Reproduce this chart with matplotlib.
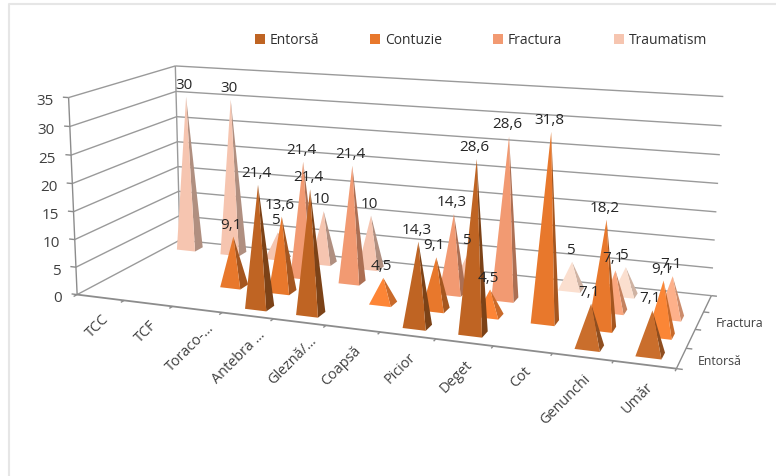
import numpy as np
import matplotlib
matplotlib.use('Agg')
import matplotlib.pyplot as plt
from matplotlib.patches import Polygon

categories = ['TCC', 'TCF', 'Toraco-...', 'Antebra ...', 'Gleznă/...', 'Coapsă',
              'Picior', 'Deget', 'Cot', 'Genunchi', 'Umăr']
series_names = ['Entorsă', 'Contuzie', 'Fractura', 'Traumatism']
entorsa = [None, None, None, 21.4, 21.4, None, 14.3, 28.6, None, 7.1, 7.1]
contuzie = [None, None, 9.1, 13.6, None, 4.5, 9.1, 4.5, 31.8, 18.2, 9.1]
fractura = [None, None, None, 21.4, 21.4, None, 14.3, 28.6, None, 7.1, 7.1]
traumatism = [30, 30, 5, 10, 10, None, 5, None, 5, 5, None]
value_ticks = [0, 5, 10, 15, 20, 25, 30, 35]
depth_labels = ['Entorsă', '', 'Fractura', '']

front_colors = ['#BF6423', '#E8782C', '#F29A72', '#F6C5B0']
side_colors = ['#7C4217', '#A5561F', '#AC6F53', '#B08F80']
# some pyramids catch more light in the original: (row, category) -> front, side
lit_points = {(0, 9): ('#CA6E2C', '#8F4E20'), (0, 10): ('#CA6E2C', '#8F4E20'),
              (1, 5): ('#FD8536', '#C96A2A'), (1, 7): ('#FD8536', '#C96A2A'),
              (1, 10): ('#FB8636', '#C76A2B'), (2, 9): ('#FBA77E', '#C4825F'),
              (2, 10): ('#FDB08A', '#CC8C6C'), (3, 8): ('#FBDFCF', '#CFB3A3'),
              (3, 9): ('#FBDFCF', '#CFB3A3')}

plt.rcParams['font.family'] = ['Open Sans', 'DejaVu Sans']

# perspective of the box: (category, series, value) -> picture pixels
box = [(0, 0, 0), (0, 0, 35), (0, 4, 0), (0, 4, 35), (11, 4, 0), (11, 4, 35), (11, 0, 0)]
pix = [(79, 295), (67, 98), (178, 242), (177, 67), (712, 295), (723, 98), (676, 371)]
A, b = [], []
for (x, y, z), (u, v) in zip(box, pix):
    A.append([x, y, z, 1, 0, 0, 0, 0, -u * x, -u * y, -u * z])
    A.append([0, 0, 0, 0, x, y, z, 1, -v * x, -v * y, -v * z])
    b += [u, v]
p = np.linalg.lstsq(np.array(A, float), np.array(b, float), rcond=None)[0]
P = np.append(p, 1).reshape(3, 4)


def proj(x, y, z):
    u, v, w = P @ np.array([x, y, z, 1.0])
    return u / w, v / w


fig = plt.figure(figsize=(7.76, 4.77), dpi=100)
ax = fig.add_axes([0, 0, 1, 1])
ax.set_xlim(0, 776)
ax.set_ylim(477, 0)
ax.axis('off')

grid = '#9A9A9A'
axis = '#8C8C8C'


def line(a, b, color=grid, lw=1.0):
    (x0, y0), (x1, y1) = proj(*a), proj(*b)
    ax.plot([x0, x1], [y0, y1], color=color, lw=lw, solid_capstyle='butt', zorder=1)


# walls and floor
for v in value_ticks:
    line((0, 0, v), (0, 4, v))
    line((0, 4, v), (11, 4, v))
    line((0, 0, v), (-0.12, 0, v), axis)
    tx, ty = proj(0, 0, v)
    ax.text(tx - 15, ty + 3, str(v), ha='right', va='center', fontsize=11, color='#404040')
line((0, 0, 0), (0, 0, 35), axis)
line((0, 4, 0), (0, 4, 35))
line((0, 0, 0), (11, 0, 0), axis, 1.3)
line((11, 0, 0), (11, 4, 0), axis)
for i in range(12):
    line((i, 0, 0), (i, -0.12, 0), axis)
for j in range(5):
    line((11, j, 0), (11.1, j, 0), axis)

for i, name in enumerate(categories):
    tx, ty = proj(i + 0.5, 0, 0)
    if name.endswith('...'):
        dx, dy = 15, 16
    else:
        dx, dy = 6, 19
    ax.text(tx + dx, ty + dy, name, rotation=45, rotation_mode='anchor', ha='right',
            va='center', fontsize=10.4, color='#404040')
for j, name in enumerate(depth_labels):
    if name:
        tx, ty = proj(11, j + 0.5, 0)
        ax.text(tx + 16, ty + 2, name, ha='left', va='center', fontsize=8.8, color='#404040')

# pyramids, back row first
rows = [entorsa, contuzie, fractura, traumatism]
half_w, half_d = 0.21, 0.17
labels = []
for j in range(3, -1, -1):
    for i, val in enumerate(rows[j]):
        if val is None:
            continue
        cx, cy = i + 0.5, j + 0.5
        tip = proj(cx, cy, val)
        fl = proj(cx - half_w, cy - half_d, 0)
        fr = proj(cx + half_w, cy - half_d, 0)
        br = proj(cx + half_w, cy + half_d, 0)
        fc, sc = lit_points.get((j, i), (front_colors[j], side_colors[j]))
        ax.add_patch(Polygon([fr, br, tip], closed=True, fc=sc, ec='none', zorder=2))
        ax.add_patch(Polygon([fl, fr, tip], closed=True, fc=fc, ec='none', zorder=2))
        labels.append((tip, str(val).replace('.', ',')))
for (tx, ty), s in labels:
    ax.text(tx - 2, ty - 12.5, s, ha='center', va='center', fontsize=11, color='#262626', zorder=3)

# legend along the top
legend_x = [255, 370, 493, 614]
for x, name, c in zip(legend_x, series_names, front_colors):
    ax.add_patch(Polygon([(x, 35), (x + 10, 35), (x + 10, 45), (x, 45)], closed=True,
                         fc=c, ec='none'))
    ax.text(x + 15, 41, name, ha='left', va='center', fontsize=10, color='#303030')

# grey frame at the top left of the picture
ax.plot([776, 9, 9], [5, 5, 476], color='#E6E6E6', lw=1.5, zorder=0)

fig.savefig('out.png', dpi=100)
